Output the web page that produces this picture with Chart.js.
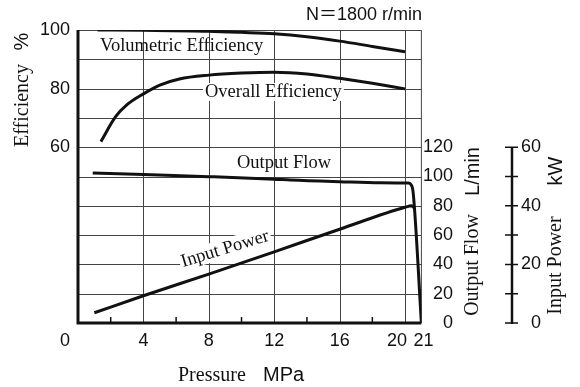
<!DOCTYPE html>
<html>
<head>
<meta charset="utf-8">
<script src="https://cdn.jsdelivr.net/npm/chart.js@4/dist/chart.umd.min.js"></script>
<style>
  html, body { margin: 0; padding: 0; background: #fff; }
  canvas { display: block; }
</style>
</head>
<body>
<canvas id="c" width="580" height="387"></canvas>
<script>
// Pump performance at N = 1800 r/min
const volPressure = [1.2, 4, 8, 10, 12, 14, 16, 18, 20];
const volEfficiency = [100, 99.9, 99.6, 99.2, 98.7, 97.7, 96.2, 94.4, 92.6];

const overallPressure = [1.4, 2.3, 3, 4, 5, 6.2, 8, 10, 12, 14, 16, 18, 20];
const overallEfficiency = [61.9, 70.4, 74.5, 78.2, 81.2, 83.3, 84.6, 85.3, 85.6, 85.0, 83.5, 81.8, 79.9];

const flowPressure = [0.9, 4, 8, 12, 13, 16, 18.5, 20.2, 20.38, 20.5, 21];
const outputFlow = [102.4, 101.3, 99.9, 98.2, 97.6, 96.5, 95.8, 95.5, 94.2, 88.7, 0];

const powerPressure = [1.0, 4, 8, 12, 16, 20, 20.4, 20.55];
const inputPower = [3.5, 9.3, 16.7, 24.3, 32.0, 39.5, 40.0, 39.3];

const pressureTicks = [0, 4, 8, 12, 16, 20, 21];
const pressureMinorTicks = [2, 6, 10, 14, 18];
const efficiencyTicks = [60, 80, 100];
const efficiencyGrid = [10, 20, 30, 40, 50, 60, 70, 80, 90];
const flowTicks = [0, 20, 40, 60, 80, 100, 120];
const powerTicks = [0, 20, 40, 60];
const powerMinorTicks = [10, 30, 50];

const SANS = '"Liberation Sans", Arial, "Noto Sans CJK JP", sans-serif';
const SERIF = '"Liberation Serif", "Times New Roman", serif';
const INK = '#111';
const GRID = '#444';
const xLabelNudge = { 0: -13, 20: -8, 21: 2 };

const toPoints = (xs, ys) => xs.map((x, i) => ({ x, y: ys[i] }));

function vText(ctx, text, x, y, font) {
  ctx.save();
  ctx.translate(x, y);
  ctx.rotate(-Math.PI / 2);
  ctx.font = font;
  ctx.textAlign = 'center';
  ctx.textBaseline = 'middle';
  ctx.fillText(text, 0, 0);
  ctx.restore();
}

const frame = {
  id: 'frame',
  beforeDatasetsDraw(chart) {
    const { ctx, chartArea: a, scales } = chart;
    const sx = scales.x, se = scales.eff, sp = scales.pow, sf = scales.flow;
    ctx.save();
    // grid
    ctx.strokeStyle = GRID;
    ctx.lineWidth = 1;
    ctx.beginPath();
    efficiencyGrid.forEach(v => {
      const y = Math.round(se.getPixelForValue(v)) + 0.5;
      ctx.moveTo(a.left, y); ctx.lineTo(a.right, y);
    });
    pressureTicks.filter(v => v > 0 && v < 21).forEach(v => {
      const x = Math.round(sx.getPixelForValue(v)) + 0.5;
      ctx.moveTo(x, a.top); ctx.lineTo(x, a.bottom);
    });
    // top and right border
    ctx.moveTo(a.left, a.top + 0.5); ctx.lineTo(a.right, a.top + 0.5);
    ctx.moveTo(a.right, a.top); ctx.lineTo(a.right, a.bottom);
    ctx.stroke();

    // minor ticks on pressure axis
    ctx.strokeStyle = INK;
    ctx.lineWidth = 1.5;
    ctx.beginPath();
    pressureMinorTicks.forEach(v => {
      const x = sx.getPixelForValue(v);
      ctx.moveTo(x, a.bottom); ctx.lineTo(x, a.bottom - 6);
    });
    ctx.stroke();

    // main axes
    ctx.lineWidth = 3;
    ctx.beginPath();
    ctx.moveTo(a.left, a.top); ctx.lineTo(a.left, a.bottom);
    ctx.lineTo(a.right, a.bottom);
    ctx.stroke();

    // input power axis
    const px = 512;
    ctx.lineWidth = 2.5;
    ctx.beginPath();
    ctx.moveTo(px, sp.getPixelForValue(60)); ctx.lineTo(px, sp.getPixelForValue(0) + 1);
    ctx.stroke();
    ctx.lineWidth = 1.5;
    ctx.beginPath();
    powerTicks.concat(powerMinorTicks).forEach(v => {
      const y = sp.getPixelForValue(v);
      ctx.moveTo(px - 7, y); ctx.lineTo(px + 6, y);
    });
    ctx.stroke();

    // tick labels
    ctx.fillStyle = INK;
    ctx.font = '18px ' + SANS;
    ctx.textBaseline = 'middle';
    ctx.textAlign = 'center';
    pressureTicks.forEach(v => {
      ctx.fillText(String(v), sx.getPixelForValue(v) + (xLabelNudge[v] || 0), 341);
    });
    ctx.textAlign = 'right';
    efficiencyTicks.forEach(v => ctx.fillText(String(v), 70, se.getPixelForValue(v)));
    flowTicks.forEach(v => ctx.fillText(String(v), 453, sf.getPixelForValue(v)));
    powerTicks.forEach(v => ctx.fillText(String(v), 541, sp.getPixelForValue(v)));

    // header
    ctx.textAlign = 'right';
    ctx.fillText('N\uFF1D1800 r/min', 422, 15);

    // axis titles
    ctx.textAlign = 'left';
    ctx.textBaseline = 'alphabetic';
    ctx.font = '20px ' + SERIF;
    ctx.fillText('Pressure', 178, 381);
    ctx.font = '20px ' + SANS;
    ctx.fillText('MPa', 263, 381);
    vText(ctx, 'Efficiency', 23, 105.5, '20px ' + SERIF);
    vText(ctx, '%', 22, 41.5, '20px ' + SANS);
    vText(ctx, 'Output Flow', 473, 265, '20px ' + SERIF);
    vText(ctx, 'L/min', 473, 171.5, '20px ' + SANS);
    vText(ctx, 'Input Power', 556, 265.5, '20px ' + SERIF);
    vText(ctx, 'kW', 556, 171, '20px ' + SANS);

    // series labels
    ctx.font = '18.5px ' + SERIF;
    ctx.textAlign = 'left';
    ctx.textBaseline = 'alphabetic';
    ctx.fillText('Volumetric Efficiency', 100, 51);
    ctx.fillText('Output Flow', 237, 168);
    let w = ctx.measureText('Overall Efficiency').width;
    ctx.fillStyle = '#fff';
    ctx.fillRect(203, 83, w + 4, 18);
    ctx.fillStyle = INK;
    ctx.fillText('Overall Efficiency', 205, 97);

    ctx.save();
    ctx.translate(183, 267);
    ctx.rotate(-17 * Math.PI / 180);
    w = ctx.measureText('Input Power').width;
    ctx.fillStyle = '#fff';
    ctx.fillRect(-2, -15, w + 4, 19);
    ctx.fillStyle = INK;
    ctx.fillText('Input Power', 0, 0);
    ctx.restore();

    ctx.restore();
  }
};

const lineStyle = {
  borderColor: INK,
  borderWidth: 3,
  pointRadius: 0,
  fill: false,
  cubicInterpolationMode: 'monotone',
  borderCapStyle: 'butt'
};

new Chart(document.getElementById('c'), {
  type: 'line',
  data: {
    datasets: [
      { label: 'Volumetric Efficiency', data: toPoints(volPressure, volEfficiency), yAxisID: 'eff', ...lineStyle },
      { label: 'Overall Efficiency', data: toPoints(overallPressure, overallEfficiency), yAxisID: 'eff', ...lineStyle },
      { label: 'Output Flow', data: toPoints(flowPressure, outputFlow), yAxisID: 'flow', ...lineStyle },
      { label: 'Input Power', data: toPoints(powerPressure, inputPower), yAxisID: 'pow', ...lineStyle }
    ]
  },
  options: {
    responsive: false,
    animation: false,
    devicePixelRatio: 1,
    layout: { padding: { left: 78, right: 158.6, top: 30, bottom: 64 } },
    plugins: { legend: { display: false }, tooltip: { enabled: false } },
    scales: {
      x: { type: 'linear', min: 0, max: 21, display: false },
      eff: { type: 'linear', min: 0, max: 100, display: false },
      flow: { type: 'linear', min: 0, max: 200, display: false },
      pow: { type: 'linear', min: 0, max: 100, display: false }
    }
  },
  plugins: [frame]
});
</script>
</body>
</html>
